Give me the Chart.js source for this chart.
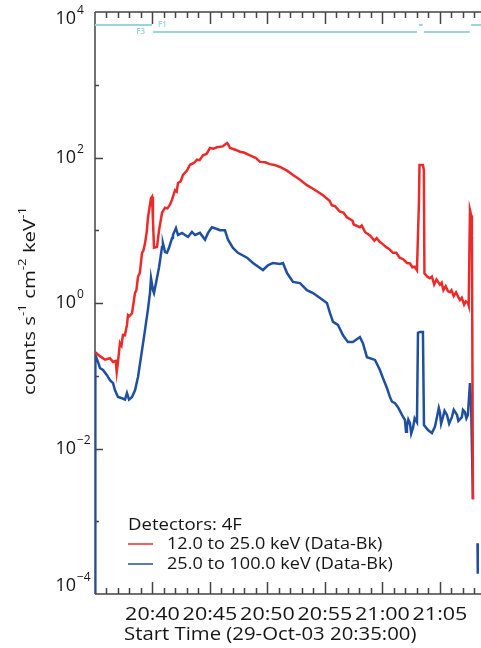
<!DOCTYPE html>
<html>
<head>
<meta charset="utf-8">
<script src="https://cdn.jsdelivr.net/npm/chart.js@4.4.1/dist/chart.umd.min.js"></script>
<style>
  body { margin: 0; background: #fff; }
  canvas { display: block; }
</style>
</head>
<body>
<canvas id="lc" width="481" height="648"></canvas>
<script>
// time axis is minutes after 20:35:00
const lowTimes = [0, 0.43, 0.87, 1.30, 1.57, 1.80, 1.89, 2.0, 2.17, 2.3, 2.43, 2.6, 2.78, 2.87, 3.0,
  3.22, 3.48, 3.6, 3.74, 3.9, 4.09, 4.2, 4.35, 4.5, 4.61, 4.87, 4.96, 5.04, 5.13, 5.39, 5.57, 5.83,
  6.09, 6.3, 6.52, 6.70, 6.96, 7.1, 7.22, 7.45, 7.65, 8.0, 8.26, 8.6, 8.87, 9.1, 9.39, 9.7, 10.0,
  10.3, 10.61, 11.1, 11.48, 11.6, 11.74, 12.2, 12.61, 13.0, 13.48, 14.0, 14.35, 14.8, 15.22, 15.6,
  16.09, 16.7, 17.22, 17.8, 18.43, 19.1, 19.83, 20.4, 20.6, 20.87, 21.3, 21.6, 21.91, 22.4, 22.5,
  23.04, 23.2, 23.5, 23.91, 24.3, 24.5, 24.78, 25.0, 25.3, 25.6, 25.91, 26.2, 26.5, 26.8, 27.13,
  27.4, 27.6, 27.8, 28.0, 28.17, 28.22, 28.52, 28.6, 28.65, 28.9, 29.13, 29.3, 29.5, 29.7, 30.0,
  30.15, 30.3, 30.5, 30.7, 30.87, 31.0, 31.2, 31.4, 31.6, 31.74, 31.9, 32.1, 32.25, 32.43, 32.5,
  32.61, 32.72, 32.78, 32.87];
const lowCounts = [0.212, 0.186, 0.166, 0.174, 0.155, 0.16, 0.112, 0.155, 0.282, 0.26, 0.363, 0.36,
  0.50, 0.684, 0.66, 0.724, 1.38, 1.5, 2.29, 2.6, 4.9, 5.2, 6.6, 9.5, 15.1, 27.5, 28.8, 13.8, 5.75,
  5.9, 10, 17.4, 20.4, 20, 22.4, 26.3, 35.5, 34, 44.7, 47, 57.5, 66, 79.4, 84, 93.3, 92, 107, 112,
  135, 132, 138, 142, 158, 150, 135, 128, 120, 116, 107, 98, 87, 86, 81, 79, 74, 66, 57.5, 50, 41.7,
  36, 30.2, 25.5, 22, 21.5, 18, 17.5, 15.1, 13.5, 12, 11.0, 11.6, 9.4, 8.5, 7.2, 7.8, 6.9, 6.5, 5.9,
  5.5, 4.9, 4.9, 4.2, 4.0, 3.55, 3.5, 3.1, 3.15, 2.82, 23.4, 79, 79, 67.6, 2.57, 2.3, 2.19, 2.3, 1.8,
  2.1, 1.78, 1.9, 1.5, 1.7, 1.45, 1.41, 1.5, 1.25, 1.4, 1.2, 1.10, 1.18, 0.95, 1.05, 1.0, 0.92, 19,
  16, 8.5, 0.002];

const highTimes = [0, 0.03, 0.26, 0.43, 0.70, 1.04, 1.30, 1.57, 1.74, 2.0, 2.35, 2.61, 2.78, 2.96,
  3.22, 3.48, 3.74, 4.09, 4.35, 4.61, 4.78, 4.87, 5.04, 5.13, 5.39, 5.57, 5.83, 5.91, 6.09, 6.26,
  6.43, 6.70, 6.78, 7.04, 7.22, 7.57, 7.83, 8.09, 8.43, 8.70, 9.13, 9.57, 9.83, 10.17, 10.61, 10.87,
  11.30, 11.57, 12.0, 12.43, 13.22, 13.74, 14.61, 15.04, 15.48, 16.09, 16.35, 16.70, 17.22, 17.83,
  18.43, 18.96, 19.57, 20.17, 20.43, 20.70, 21.13, 21.57, 22.0, 22.43, 23.04, 23.30, 23.65, 24.35,
  24.78, 25.04, 25.39, 25.65, 25.83, 26.09, 26.35, 26.70, 26.96, 27.05, 27.13, 27.25, 27.39, 27.5,
  27.65, 27.8, 28.0, 28.09, 28.26, 28.52, 28.61, 28.96, 29.30, 29.57, 29.74, 29.9, 30.0, 30.1, 30.26,
  30.4, 30.61, 30.8, 31.04, 31.2, 31.48, 31.6, 31.91, 32.0, 32.17, 32.3, 32.43, 32.61, 32.70, 32.87,
  32.9, 33.27, 33.29];
const highCounts = [0.00001, 0.193, 0.155, 0.128, 0.12, 0.102, 0.087, 0.079, 0.063, 0.051, 0.049,
  0.047, 0.058, 0.047, 0.051, 0.063, 0.096, 0.225, 0.427, 0.83, 1.37, 2.2, 1.5, 1.37, 2.2, 3.1, 5.9,
  6.6, 5.0, 4.9, 5.7, 7.8, 8.6, 10.7, 8.6, 9.2, 8.6, 8.1, 9.5, 8.6, 9.2, 7.4, 9.2, 11.0, 10.4, 10,
  10, 7.4, 5.7, 4.9, 4.2, 3.55, 2.84, 3.3, 3.55, 3.45, 3.55, 2.58, 1.95, 1.88, 1.5, 1.37, 1.17, 1.0,
  0.73, 0.55, 0.50, 0.36, 0.29, 0.29, 0.34, 0.28, 0.18, 0.165, 0.12, 0.093, 0.068, 0.051, 0.044,
  0.042, 0.037, 0.029, 0.0246, 0.017, 0.020, 0.025, 0.0224, 0.016, 0.019, 0.026, 0.023, 0.39, 0.40,
  0.40, 0.021, 0.0179, 0.0163, 0.020, 0.027, 0.036, 0.031, 0.022, 0.027, 0.033, 0.029, 0.022, 0.027,
  0.034, 0.029, 0.024, 0.027, 0.034, 0.0316, 0.026, 0.029, 0.079, 0.047, 0.002, null, 0.0005,
  0.00019];

// attenuator state: 1 = F1, 3 = F3, null = break
const attTimes = [0, 4.96, 5.0, 5.04, 28.0, 28.1, 28.17, 28.5, 28.55, 28.6, 32.6, 32.65, 32.7, 33.6];
const attState = [1, 1, null, 3, 3, null, 1, 1, null, 3, 3, null, 1, 1];

const majorMinutes = [5, 10, 15, 20, 25, 30];
const majorLabels = ["20:40", "20:45", "20:50", "20:55", "21:00", "21:05"];
const labelExponents = [4, 2, 0, -2, -4];

const RED = "#ec2a2a";
const BLUE = "#1f4f9f";
const ATT = "#98d5df";
const AXIS = "#444";
const FONT = "'Open Sans', sans-serif";

const pairs = (xs, ys) => xs.map((x, i) => ({ x: x, y: ys[i] }));

// text drawn with a horizontal stretch so it reads as wide as the plot's lettering
function wideText(ctx, text, x, y, sx, align) {
  ctx.save();
  ctx.translate(x, y);
  ctx.scale(sx, 1);
  ctx.textAlign = align;
  ctx.fillText(text, 0, 0);
  ctx.restore();
}

const frame = {
  id: "frame",
  beforeDatasetsDraw(chart) {
    const { ctx, chartArea: a, scales } = chart;
    const x = scales.x, y = scales.y;
    ctx.save();
    ctx.strokeStyle = AXIS;
    ctx.lineWidth = 1.5;
    ctx.beginPath();
    ctx.moveTo(a.left, a.top); ctx.lineTo(a.right, a.top);
    ctx.moveTo(a.left, a.bottom); ctx.lineTo(a.right, a.bottom);
    ctx.moveTo(a.left, a.top); ctx.lineTo(a.left, a.bottom);
    // minute ticks on bottom and top, long every 5 minutes
    for (let m = 1; m <= Math.floor(x.max); m++) {
      const px = Math.round(x.getPixelForValue(m)) + 0.5;
      const len = m % 5 === 0 ? 12 : 6;
      ctx.moveTo(px, a.bottom); ctx.lineTo(px, a.bottom - len);
      ctx.moveTo(px, a.top); ctx.lineTo(px, a.top + len);
    }
    // decade ticks, long on labelled ones
    for (let e = -3; e <= 3; e++) {
      const py = Math.round(y.getPixelForValue(Math.pow(10, e))) + 0.5;
      const len = e % 2 === 0 ? 8 : 4;
      ctx.moveTo(a.left, py); ctx.lineTo(a.left + len, py);
    }
    ctx.stroke();
    ctx.restore();
  },
  afterDraw(chart) {
    const { ctx, chartArea: a, scales } = chart;
    const x = scales.x, y = scales.y, att = scales.att;
    ctx.save();
    ctx.fillStyle = "#151515";

    // y tick labels 10^n
    ctx.textBaseline = "middle";
    labelExponents.forEach(e => {
      let py = y.getPixelForValue(Math.pow(10, e));
      py = Math.min(Math.max(py, a.top + 7), a.bottom - 8);
      ctx.font = "18px " + FONT;
      ctx.textAlign = "right";
      ctx.fillText("10", 76, py);
      ctx.font = "12px " + FONT;
      ctx.textAlign = "left";
      ctx.fillText(String(e).replace("-", "\u2212"), 77, py - 8);
    });

    // x tick labels and axis title
    ctx.font = "19px " + FONT;
    majorMinutes.forEach((m, i) => {
      wideText(ctx, majorLabels[i], x.getPixelForValue(m), 615, 1.13, "center");
    });
    wideText(ctx, "Start Time (29-Oct-03 20:35:00)", 124, 635, 1.07, "left");

    // y axis title with superscripts
    ctx.save();
    ctx.translate(30, 301);
    ctx.rotate(-Math.PI / 2);
    ctx.scale(1.2, 1);
    const parts = [["counts s", 0], ["-1", 1], [" cm", 0], ["-2", 1], [" keV", 0], ["-1", 1]];
    const big = "17px " + FONT, small = "11px " + FONT;
    let w = 0;
    parts.forEach(p => { ctx.font = p[1] ? small : big; w += ctx.measureText(p[0]).width; });
    let cx = -w / 2;
    ctx.textAlign = "left";
    parts.forEach(p => {
      ctx.font = p[1] ? small : big;
      ctx.fillText(p[0], cx, p[1] ? -7 : 0);
      cx += ctx.measureText(p[0]).width;
    });
    ctx.restore();

    // attenuator labels
    ctx.font = "600 8px " + FONT;
    ctx.fillStyle = ATT;
    ctx.textAlign = "left";
    ctx.fillText("F1", x.getPixelForValue(attTimes[1]) + 6, att.getPixelForValue(1));
    ctx.textAlign = "right";
    ctx.fillText("F3", x.getPixelForValue(attTimes[1]) - 7, att.getPixelForValue(3));

    // legend
    ctx.fillStyle = "#151515";
    ctx.font = "16px " + FONT;
    wideText(ctx, "Detectors: 4F", 128, 525, 1.16, "left");
    const rows = [[RED, "12.0 to 25.0 keV (Data-Bk)"], [BLUE, "25.0 to 100.0 keV (Data-Bk)"]];
    rows.forEach((r, i) => {
      const ry = 544 + i * 20;
      ctx.strokeStyle = r[0];
      ctx.lineWidth = 1.5;
      ctx.beginPath();
      ctx.moveTo(128, ry); ctx.lineTo(153, ry);
      ctx.stroke();
      wideText(ctx, r[1], 167, ry, 1.13, "left");
    });
    ctx.restore();
  }
};

new Chart(document.getElementById("lc"), {
  type: "line",
  data: {
    datasets: [
      { label: "12.0 to 25.0 keV (Data-Bk)", data: pairs(lowTimes, lowCounts),
        borderColor: RED, borderWidth: 2.5, pointRadius: 0, tension: 0 },
      { label: "25.0 to 100.0 keV (Data-Bk)", data: pairs(highTimes, highCounts),
        borderColor: BLUE, borderWidth: 2.5, pointRadius: 0, tension: 0, spanGaps: false },
      { label: "attenuator", data: pairs(attTimes, attState), yAxisID: "att",
        borderColor: ATT, borderWidth: 2, pointRadius: 0, spanGaps: false }
    ]
  },
  options: {
    responsive: false,
    animation: false,
    layout: { padding: { left: 95, top: 12, right: 0, bottom: 54 } },
    plugins: { legend: { display: false }, tooltip: { enabled: false } },
    scales: {
      x: { type: "linear", min: 0, max: 33.57, display: false },
      y: { type: "logarithmic", min: 1e-4, max: 1e4, display: false },
      att: { type: "linear", reverse: true, min: -2.714, max: 163.57, display: false }
    }
  },
  plugins: [frame]
});
</script>
</body>
</html>
